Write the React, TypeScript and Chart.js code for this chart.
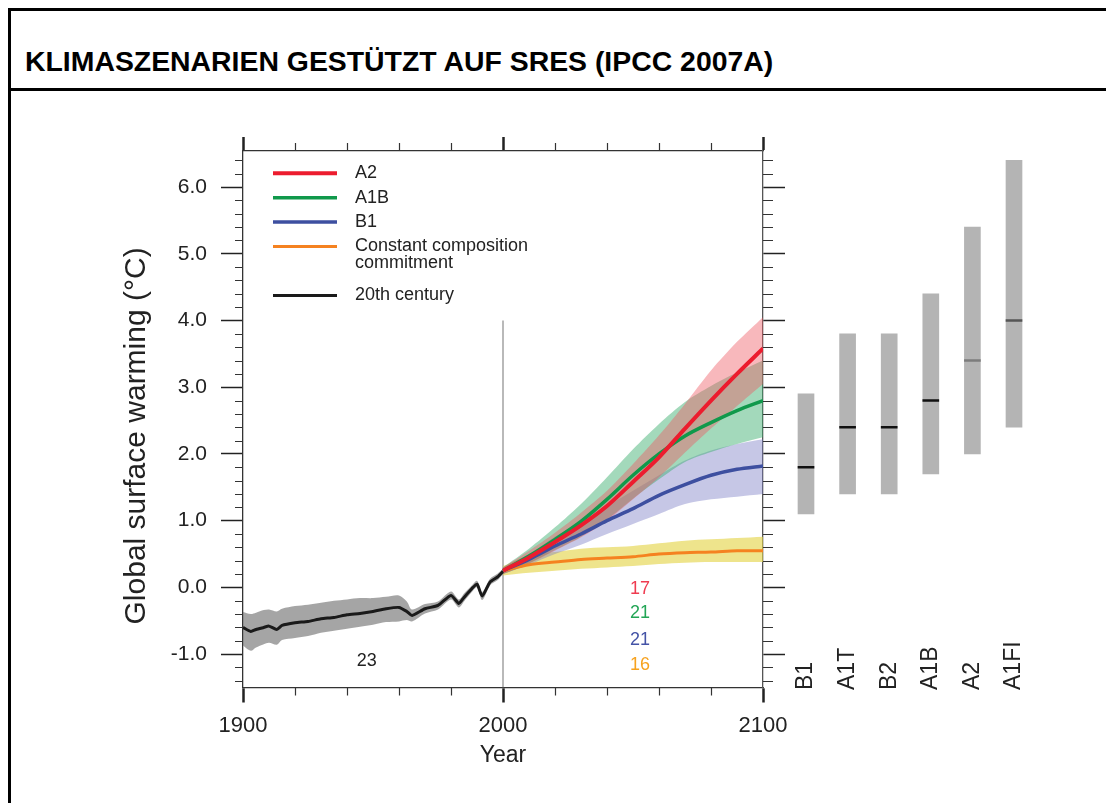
import React, { useEffect, useRef } from 'react';
import { Chart, registerables } from 'chart.js';

Chart.register(...registerables);

const FONT = '"Liberation Sans", Arial, Helvetica, sans-serif';
const TITLE = 'KLIMASZENARIEN GESTÜTZT AUF SRES (IPCC 2007A)';

// ---- 20th century (model mean and spread) ----
const years20 = [1900, 1903, 1905, 1908, 1910, 1913, 1915, 1920, 1925, 1930, 1935, 1940, 1945, 1950, 1955, 1960, 1963, 1965, 1970, 1975, 1980, 1983, 1985, 1988, 1990, 1992, 1995, 1998, 2000];
const mean20 = [-0.60, -0.66, -0.63, -0.60, -0.58, -0.63, -0.57, -0.53, -0.51, -0.47, -0.45, -0.41, -0.39, -0.36, -0.32, -0.30, -0.36, -0.42, -0.32, -0.27, -0.12, -0.24, -0.15, -0.02, 0.05, -0.13, 0.08, 0.16, 0.24];
const up20 = [-0.37, -0.40, -0.38, -0.34, -0.33, -0.36, -0.32, -0.28, -0.26, -0.23, -0.20, -0.18, -0.16, -0.16, -0.14, -0.12, -0.21, -0.33, -0.25, -0.21, -0.06, -0.18, -0.09, 0.03, 0.10, -0.07, 0.13, 0.21, 0.28];
const lo20 = [-0.87, -0.95, -0.90, -0.85, -0.83, -0.86, -0.79, -0.76, -0.73, -0.68, -0.65, -0.62, -0.59, -0.56, -0.52, -0.51, -0.49, -0.51, -0.39, -0.33, -0.18, -0.30, -0.21, -0.07, 0.00, -0.19, 0.03, 0.11, 0.20];

// ---- 21st century scenarios ----
const years21 = [2000, 2010, 2020, 2030, 2040, 2050, 2060, 2070, 2080, 2090, 2100];
const a2Mean = [0.25, 0.45, 0.68, 0.93, 1.22, 1.58, 1.95, 2.38, 2.80, 3.20, 3.58];
const a2Up = [0.30, 0.55, 0.82, 1.12, 1.45, 1.85, 2.28, 2.75, 3.25, 3.68, 4.05];
const a2Lo = [0.20, 0.36, 0.55, 0.75, 1.00, 1.32, 1.65, 2.02, 2.38, 2.72, 3.05];
const a1bMean = [0.25, 0.47, 0.72, 0.99, 1.32, 1.68, 2.00, 2.27, 2.47, 2.65, 2.80];
const a1bUp = [0.30, 0.58, 0.90, 1.25, 1.65, 2.07, 2.45, 2.78, 3.02, 3.22, 3.40];
const a1bLo = [0.20, 0.36, 0.56, 0.76, 1.02, 1.33, 1.62, 1.88, 2.03, 2.15, 2.25];
const b1Mean = [0.25, 0.42, 0.62, 0.80, 1.00, 1.18, 1.38, 1.54, 1.68, 1.77, 1.82];
const b1Up = [0.30, 0.50, 0.76, 0.98, 1.22, 1.45, 1.68, 1.90, 2.05, 2.15, 2.22];
const b1Lo = [0.20, 0.34, 0.50, 0.64, 0.80, 0.95, 1.10, 1.25, 1.32, 1.36, 1.40];
const ccMean = [0.25, 0.34, 0.38, 0.42, 0.44, 0.46, 0.50, 0.52, 0.53, 0.55, 0.55];
const ccUp = [0.32, 0.48, 0.53, 0.58, 0.60, 0.62, 0.66, 0.70, 0.72, 0.74, 0.76];
const ccLo = [0.18, 0.22, 0.25, 0.28, 0.30, 0.32, 0.35, 0.37, 0.38, 0.38, 0.38];

// ---- divider at year 2000 ----
const dividerYear = 2000;
const dividerTop = 4.0;

// ---- axis ticks ----
const xMajor = [1900, 2000, 2100];
const xMinor = [1920, 1940, 1960, 1980, 2020, 2040, 2060, 2080];
const yMajor = [-1, 0, 1, 2, 3, 4, 5, 6];
const yMinor = [-1.4, -1.2, -0.8, -0.6, -0.4, -0.2, 0.2, 0.4, 0.6, 0.8, 1.2, 1.4, 1.6, 1.8, 2.2, 2.4, 2.6, 2.8, 3.2, 3.4, 3.6, 3.8, 4.2, 4.4, 4.6, 4.8, 5.2, 5.4, 5.6, 5.8, 6.2, 6.4];
const yMin = -1.5;
const yMax = 6.54;

// ---- model count notes ----
const noteTexts = ['23', '17', '21', '21', '16'];
const noteYears = [1947.6, 2052.7, 2052.7, 2052.7, 2052.7];
const noteValues = [-1.10, -0.02, -0.38, -0.79, -1.16];
const noteColors = ['#222222', '#ef3b50', '#22a555', '#4453a6', '#f7a21e'];

// ---- likely ranges at 2090-2099 ----
const barLabels = ['B1', 'A1T', 'B2', 'A1B', 'A2', 'A1FI'];
const barLow = [1.1, 1.4, 1.4, 1.7, 2.0, 2.4];
const barHigh = [2.9, 3.8, 3.8, 4.4, 5.4, 6.4];
const barBest = [1.8, 2.4, 2.4, 2.8, 3.4, 4.0];
const bestColors = ['#111111', '#111111', '#111111', '#111111', '#7c7c7c', '#555555'];

const C = {
  red: '#ec1c2e', green: '#10994b', blue: '#3d4fa0', orange: '#f58220', black: '#1a1a1a',
  redBand: 'rgba(238, 85, 95, 0.42)', greenBand: 'rgba(60, 175, 110, 0.47)',
  blueBand: 'rgba(118, 122, 195, 0.42)', yellowBand: 'rgba(228, 212, 70, 0.62)',
  grayBand: 'rgba(110, 110, 110, 0.62)',
};

const zip = (xs: number[], ys: number[]) => xs.map((x, i) => ({ x, y: ys[i] }));

const minorTicksPlugin = {
  id: 'minorTicks',
  afterDraw(chart: any) {
    const { ctx, chartArea: ca } = chart;
    const { x, y } = chart.scales;
    ctx.save();
    ctx.strokeStyle = '#333';
    ctx.lineWidth = 1.2;
    ctx.beginPath();
    xMinor.forEach((v) => {
      const px = Math.round(x.getPixelForValue(v)) + 0.5;
      ctx.moveTo(px, ca.bottom); ctx.lineTo(px, ca.bottom + 8);
      ctx.moveTo(px, ca.top); ctx.lineTo(px, ca.top - 8);
    });
    yMinor.forEach((v) => {
      const py = Math.round(y.getPixelForValue(v)) + 0.5;
      ctx.moveTo(ca.left, py); ctx.lineTo(ca.left - 8, py);
      ctx.moveTo(ca.right, py); ctx.lineTo(ca.right + 10, py);
    });
    ctx.stroke();
    ctx.restore();
  },
};

const legendPlugin = {
  id: 'insideLegend',
  afterDatasetsDraw(chart: any) {
    const { ctx, chartArea: ca } = chart;
    const items = chart.data.datasets.filter((d: any) => d.inLegend);
    let yy = ca.top + 22.3;
    const x0 = ca.left + 30;
    ctx.save();
    ctx.font = `18px ${FONT}`;
    ctx.textBaseline = 'middle';
    ctx.textAlign = 'left';
    items.forEach((d: any) => {
      ctx.strokeStyle = d.borderColor;
      ctx.lineWidth = d.legendWidth || 3;
      ctx.beginPath();
      ctx.moveTo(x0, yy); ctx.lineTo(x0 + 64, yy);
      ctx.stroke();
      ctx.fillStyle = '#222';
      const lines: string[] = d.legendLines || [d.label];
      lines.forEach((t, i) => ctx.fillText(t, x0 + 82, yy + i * 17));
      yy += 24.4 + (lines.length - 1) * 24.6;
    });
    ctx.restore();
  },
};

const notesPlugin = {
  id: 'notes',
  afterDatasetsDraw(chart: any) {
    const { ctx } = chart;
    const { x, y } = chart.scales;
    ctx.save();
    ctx.font = `18px ${FONT}`;
    ctx.textAlign = 'center';
    ctx.textBaseline = 'middle';
    noteTexts.forEach((t, i) => {
      ctx.fillStyle = noteColors[i];
      ctx.fillText(t, x.getPixelForValue(noteYears[i]), y.getPixelForValue(noteValues[i]));
    });
    ctx.restore();
  },
};

const barLabelPlugin = {
  id: 'barLabels',
  afterDraw(chart: any) {
    const { ctx, chartArea: ca } = chart;
    const xs = chart.scales.x;
    ctx.save();
    ctx.font = `23px ${FONT}`;
    ctx.fillStyle = '#222';
    ctx.textAlign = 'left';
    ctx.textBaseline = 'middle';
    chart.data.labels.forEach((lab: string, i: number) => {
      ctx.save();
      ctx.translate(xs.getPixelForValue(i), ca.bottom + 2.5);
      ctx.rotate(-Math.PI / 2);
      ctx.fillText(lab, 0, 0);
      ctx.restore();
    });
    ctx.restore();
  },
};

// y-axis title drawn through the left scale's geometry, centred a little below the plot middle
const yTitlePlugin = {
  id: 'yTitle',
  afterDraw(chart: any) {
    const { ctx } = chart;
    const ys = chart.scales.y;
    ctx.save();
    ctx.font = `30px ${FONT}`;
    ctx.fillStyle = '#222';
    ctx.textAlign = 'center';
    ctx.textBaseline = 'middle';
    ctx.translate(ys.left + 17, ys.getPixelForValue(2.27));
    ctx.rotate(-Math.PI / 2);
    ctx.fillText('Global surface warming (°C)', 0, 0);
    ctx.restore();
  },
};

const W = 1103;
const H = 712;

function makeMainChart(canvas: HTMLCanvasElement) {
  const line = (label: string, xs: number[], ys: number[], color: string, width: number, order: number, extra: any = {}) => ({
    label, data: zip(xs, ys), borderColor: color, borderWidth: width, pointRadius: 0,
    fill: false, tension: 0.3, order, inLegend: true, legendWidth: width, ...extra,
  });
  const band = (label: string, xs: number[], up: number[], lo: number[], color: string, order: number) => ([
    { label: label + ' upper', data: zip(xs, up), borderWidth: 0, pointRadius: 0, tension: 0.3, fill: '+1', backgroundColor: color, order },
    { label: label + ' lower', data: zip(xs, lo), borderWidth: 0, pointRadius: 0, tension: 0.3, fill: false, order: order + 0.5 },
  ]);

  const datasets: any[] = [
    line('A2', years21, a2Mean, C.red, 4, 1),
    line('A1B', years21, a1bMean, C.green, 3.5, 2),
    line('B1', years21, b1Mean, C.blue, 3.5, 3),
    line('Constant composition commitment', years21, ccMean, C.orange, 3, 4, { legendLines: ['Constant composition', 'commitment'] }),
    line('20th century', years20, mean20, C.black, 3, 5, { tension: 0.2 }),
    ...band('A2', years21, a2Up, a2Lo, C.redBand, 6),
    ...band('A1B', years21, a1bUp, a1bLo, C.greenBand, 7),
    ...band('B1', years21, b1Up, b1Lo, C.blueBand, 8),
    ...band('Commitment', years21, ccUp, ccLo, C.yellowBand, 9),
    ...band('20th century', years20, up20, lo20, C.grayBand, 10),
    { label: 'divider', data: [{ x: dividerYear, y: dividerTop }, { x: dividerYear, y: yMin }], borderColor: '#8a8a8a', borderWidth: 1.2, pointRadius: 0, fill: false, order: 20 },
  ];

  return new Chart(canvas, {
    type: 'line',
    data: { datasets },
    options: {
      responsive: false,
      animation: false,
      events: [],
      layout: { padding: { left: 108.8, right: 329, top: 46, bottom: 33.5 } },
      plugins: { legend: { display: false }, tooltip: { enabled: false } },
      scales: {
        x: {
          type: 'linear', position: 'bottom', min: 1900, max: 2100,
          afterBuildTicks: (s: any) => { s.ticks = xMajor.map((v) => ({ value: v })); },
          afterFit: (s: any) => { s.height = 82; },
          ticks: { font: { family: FONT, size: 22 }, color: '#222', padding: 10, autoSkip: false, maxRotation: 0, callback: (v: any) => String(v) },
          grid: { drawOnChartArea: false, drawTicks: true, tickLength: 15, tickWidth: 2.5, tickColor: '#222' },
          border: { display: true, color: '#333', width: 1.3 },
          title: { display: true, text: 'Year', font: { family: FONT, size: 23 }, color: '#222', padding: 0 },
        },
        x2: {
          type: 'linear', position: 'top', min: 1900, max: 2100,
          afterBuildTicks: (s: any) => { s.ticks = xMajor.map((v) => ({ value: v })); },
          afterFit: (s: any) => { s.height = 14; },
          ticks: { display: false },
          grid: { drawOnChartArea: false, drawTicks: true, tickLength: 14, tickWidth: 2.5, tickColor: '#222' },
          border: { display: true, color: '#333', width: 1.3 },
        },
        y: {
          type: 'linear', position: 'left', min: yMin, max: yMax,
          afterBuildTicks: (s: any) => { s.ticks = yMajor.map((v) => ({ value: v })); },
          afterFit: (s: any) => { s.width = 123.2; },
          ticks: { font: { family: FONT, size: 21 }, color: '#222', padding: 14, autoSkip: false, callback: (v: any) => Number(v).toFixed(1) },
          grid: { drawOnChartArea: false, drawTicks: true, tickLength: 22, tickWidth: 1.5, tickColor: '#222' },
          border: { display: true, color: '#333', width: 1.3 },
          title: { display: false },
        },
        y2: {
          type: 'linear', position: 'right', min: yMin, max: yMax,
          afterBuildTicks: (s: any) => { s.ticks = yMajor.map((v) => ({ value: v })); },
          afterFit: (s: any) => { s.width = 22; },
          ticks: { display: false },
          grid: { drawOnChartArea: false, drawTicks: true, tickLength: 22, tickWidth: 1.5, tickColor: '#222' },
          border: { display: true, color: '#555', width: 1.3 },
        },
      },
    } as any,
    plugins: [minorTicksPlugin, legendPlugin, notesPlugin, yTitlePlugin],
  });
}

function makeBarChart(canvas: HTMLCanvasElement) {
  return new Chart(canvas, {
    type: 'bar',
    data: {
      labels: barLabels,
      datasets: [
        {
          label: 'Best estimate', data: barBest.map((b) => [b - 0.014, b + 0.014]),
          backgroundColor: bestColors, borderWidth: 0, barThickness: 16, grouped: false, order: 0,
        },
        {
          label: 'Likely range', data: barLow.map((l, i) => [l, barHigh[i]]),
          backgroundColor: '#b4b4b4', borderWidth: 0, barThickness: 16, grouped: false, order: 1,
        },
      ],
    } as any,
    options: {
      responsive: false,
      animation: false,
      events: [],
      layout: { padding: { left: 774.2, right: 79.2, top: 60, bottom: 115.5 } },
      plugins: { legend: { display: false }, tooltip: { enabled: false } },
      scales: {
        x: { type: 'category', display: false, offset: true },
        y: { type: 'linear', display: false, min: yMin, max: yMax },
      },
    } as any,
    plugins: [barLabelPlugin],
  });
}

export default function App() {
  const mainRef = useRef<HTMLCanvasElement>(null);
  const barRef = useRef<HTMLCanvasElement>(null);

  useEffect(() => {
    Chart.defaults.font.family = FONT;
    const c1 = makeMainChart(mainRef.current!);
    const c2 = makeBarChart(barRef.current!);
    return () => { c1.destroy(); c2.destroy(); };
  }, []);

  const canvasStyle: React.CSSProperties = { position: 'absolute', left: 0, top: 80, width: W, height: H };

  return (
    <div style={{ position: 'relative', width: 1106, height: 795, borderTop: '3px solid #000', borderLeft: '3px solid #000', boxSizing: 'border-box', overflow: 'hidden', background: '#fff' }}>
      <div style={{ position: 'absolute', left: 0, top: 0, width: '100%', height: 77, borderBottom: '3px solid #000' }}>
        <div style={{ position: 'absolute', left: 14, top: 34, fontFamily: FONT, fontWeight: 'bold', fontSize: '28.4px', lineHeight: '32px', whiteSpace: 'nowrap', color: '#000' }}>
          {TITLE}
        </div>
      </div>
      <canvas ref={mainRef} width={W} height={H} style={canvasStyle} />
      <canvas ref={barRef} width={W} height={H} style={canvasStyle} />
    </div>
  );
}
